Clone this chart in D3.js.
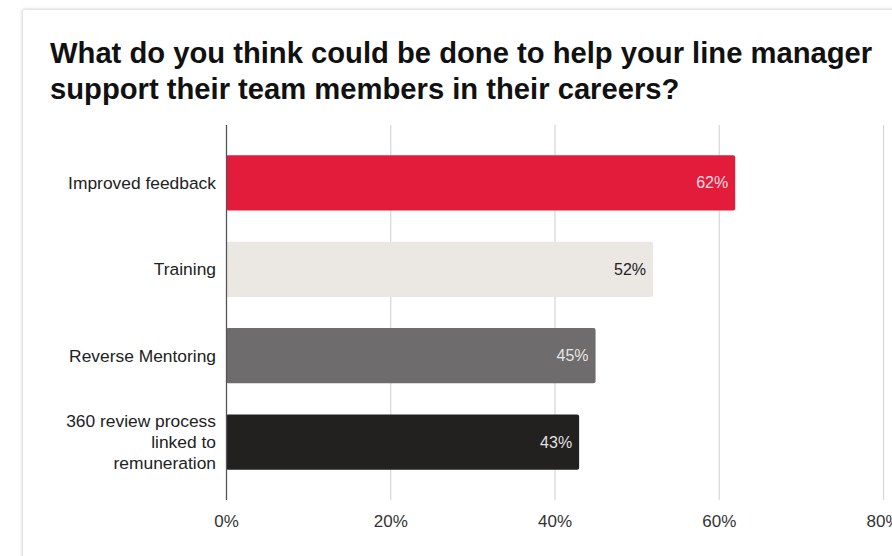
<!DOCTYPE html>
<html>
<head>
<meta charset="utf-8">
<script src="https://cdn.jsdelivr.net/npm/d3@7"></script>
<style>
  html, body { margin: 0; padding: 0; background: #fff; }
  svg { display: block; font-family: "Liberation Sans", Arial, sans-serif; }
</style>
</head>
<body>
<svg id="chart" width="892" height="556"></svg>
<script>
// Survey answers, share of respondents
const categories = [
  "Improved feedback",
  "Training",
  "Reverse Mentoring",
  "360 review process linked to remuneration"
];
const categoryLines = [
  ["Improved feedback"],
  ["Training"],
  ["Reverse Mentoring"],
  ["360 review process", "linked to", "remuneration"]
];
const values = [0.62, 0.52, 0.45, 0.43];
const valueLabels = ["62%", "52%", "45%", "43%"];
const barColors = ["#e31c3c", "#ebe8e4", "#6e6c6c", "#232120"];
const labelColors = ["rgba(255,255,255,0.85)", "#222", "rgba(255,255,255,0.85)", "rgba(255,255,255,0.88)"];
const tickValues = [0, 0.2, 0.4, 0.6, 0.8];
const tickLabels = ["0%", "20%", "40%", "60%", "80%"];
const titleLines = [
  "What do you think could be done to help your line manager",
  "support their team members in their careers?"
];

const svg = d3.select("#chart");

// card background with faint border and shadow
const defs = svg.append("defs");
const f = defs.append("filter").attr("id", "shadow").attr("x", "-5%").attr("y", "-5%").attr("width", "110%").attr("height", "110%");
f.append("feDropShadow").attr("dx", 0).attr("dy", 0).attr("stdDeviation", 1.5).attr("flood-color", "#000").attr("flood-opacity", 0.18);
svg.append("rect")
  .attr("x", 22.5).attr("y", 9.5).attr("width", 900).attr("height", 600)
  .attr("rx", 2)
  .attr("fill", "#fff").attr("stroke", "#e4e4e4").attr("stroke-width", 1)
  .attr("filter", "url(#shadow)");

// title
const title = svg.append("text")
  .attr("x", 50).attr("y", 63)
  .attr("font-size", 29.2).attr("font-weight", "bold").attr("fill", "#111");
titleLines.forEach((t, i) => {
  title.append("tspan").attr("x", 50).attr("dy", i === 0 ? 0 : 36).text(t);
});

const x = d3.scaleLinear().domain([0, 0.8]).range([226, 883]);
const y = d3.scaleBand().domain(categories).range([125, 500])
  .paddingInner(0.36).paddingOuter(0.35);

// vertical gridlines
svg.append("g").selectAll("line")
  .data(tickValues.slice(1))
  .join("line")
  .attr("x1", d => x(d) + 0.5).attr("x2", d => x(d) + 0.5)
  .attr("y1", 125).attr("y2", 500)
  .attr("stroke", "#d6d6d6").attr("stroke-width", 1.2);

// bars
svg.append("g").selectAll("rect")
  .data(categories)
  .join("rect")
  .attr("x", x(0))
  .attr("y", d => y(d))
  .attr("width", (d, i) => x(values[i]) - x(0))
  .attr("height", y.bandwidth())
  .attr("rx", 2)
  .attr("fill", (d, i) => barColors[i]);

// baseline axis
svg.append("line")
  .attr("x1", x(0) + 0.5).attr("x2", x(0) + 0.5)
  .attr("y1", 125).attr("y2", 500)
  .attr("stroke", "#555").attr("stroke-width", 1.3);

// value labels inside bar ends
svg.append("g").selectAll("text")
  .data(categories)
  .join("text")
  .attr("x", (d, i) => x(values[i]) - 7)
  .attr("y", d => y(d) + y.bandwidth() / 2)
  .attr("dy", "0.35em")
  .attr("text-anchor", "end")
  .attr("font-size", 16)
  .attr("fill", (d, i) => labelColors[i])
  .text((d, i) => valueLabels[i]);

// category labels
const catG = svg.append("g");
categories.forEach((c, i) => {
  const lines = categoryLines[i];
  const cy = y(c) + y.bandwidth() / 2;
  const lh = 21;
  const t = catG.append("text")
    .attr("text-anchor", "end")
    .attr("font-size", 17.4)
    .attr("fill", "#222");
  lines.forEach((ln, j) => {
    t.append("tspan")
      .attr("x", 216)
      .attr("y", cy + (j - (lines.length - 1) / 2) * lh)
      .attr("dy", "0.35em")
      .text(ln);
  });
});

// x axis tick labels
const xAxis = d3.axisBottom(x).tickValues(tickValues)
  .tickFormat((d, i) => tickLabels[i]).tickSize(0).tickPadding(0);
const ax = svg.append("g").attr("transform", "translate(0,515)").call(xAxis);
ax.select(".domain").remove();
ax.selectAll("text")
  .attr("font-family", "'Liberation Sans', Arial, sans-serif")
  .attr("font-size", 17).attr("fill", "#333").attr("dy", "0.71em");
</script>
</body>
</html>
